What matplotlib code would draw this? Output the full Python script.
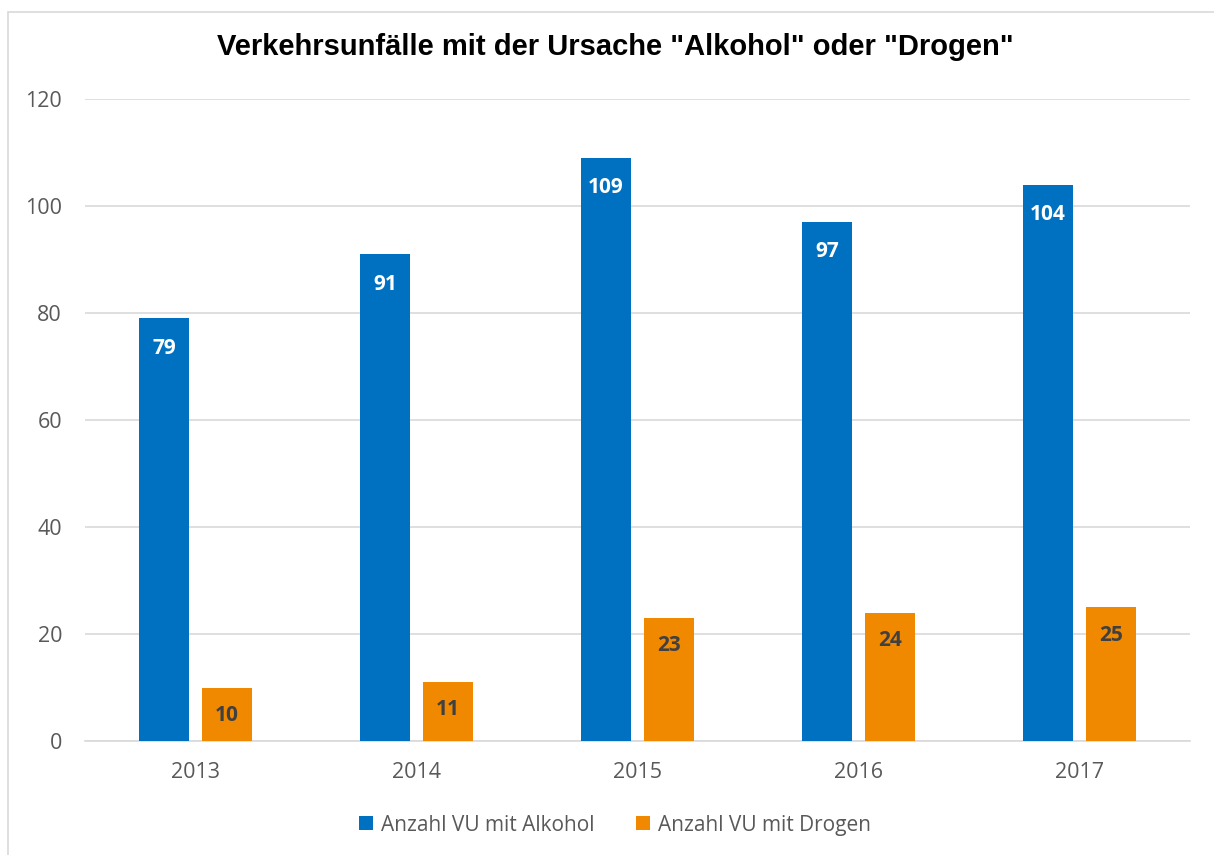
import matplotlib
matplotlib.use("Agg")
import matplotlib.pyplot as plt
import matplotlib.patches as mpatches
import numpy as np

years = ["2013", "2014", "2015", "2016", "2017"]
alkohol = [79, 91, 109, 97, 104]
drogen = [10, 11, 23, 24, 25]
series_names = ["Anzahl VU mit Alkohol", "Anzahl VU mit Drogen"]
title = 'Verkehrsunfälle mit der Ursache "Alkohol" oder "Drogen"'

blue = "#0070C0"
orange = "#F08800"
txt = "#595959"

fig = plt.figure(figsize=(12.14, 8.55), dpi=100)
ax = fig.add_axes([85/1214, 1-741/855, (1190-85)/1214, (741-99)/855])

# outer frame
fig.patches.append(mpatches.Rectangle((8/1214, -0.05), 1.1, (855-12)/855 + 0.05,
                                      transform=fig.transFigure, fill=False,
                                      edgecolor="#D9D9D9", linewidth=1.2))

x = np.arange(len(years))
w = 0.226
off = 0.1425
b1 = ax.bar(x - off, alkohol, w, color=blue, label=series_names[0], zorder=3)
b2 = ax.bar(x + off, drogen, w, color=orange, label=series_names[1], zorder=3)

for rect, v in zip(b1, alkohol):
    ax.annotate(str(v), (rect.get_x() + rect.get_width()/2, v), xytext=(0, -21.5),
                textcoords="offset points", ha="center", va="center",
                color="white", fontweight="bold", fontsize=15, family="Open Sans")
for rect, v in zip(b2, drogen):
    ax.annotate(str(v), (rect.get_x() + rect.get_width()/2, v), xytext=(0, -20),
                textcoords="offset points", ha="center", va="center",
                color="#404040", fontweight="bold", fontsize=15, family="Open Sans")

ax.set_xlim(-0.5, len(years) - 0.5)
ax.set_ylim(0, 120)
ax.set_yticks(range(0, 121, 20))
ax.set_xticks(x)
ax.set_xticklabels(years)
ax.grid(axis="y", color="#D9D9D9", linewidth=1.2, zorder=0)
for s in ["top", "right", "left"]:
    ax.spines[s].set_visible(False)
ax.spines["bottom"].set_color("#D9D9D9")
ax.spines["bottom"].set_linewidth(1.2)
ax.tick_params(axis="both", length=0, labelcolor=txt, labelsize=15.5)
ax.tick_params(axis="y", pad=16.5)
ax.tick_params(axis="x", pad=15)
for lab in ax.get_xticklabels() + ax.get_yticklabels():
    lab.set_family("Open Sans")

fig.text(615/1214, 1-47/855, title, ha="center", va="center",
         fontsize=21, fontweight="bold", family="Liberation Sans", color="black")

leg = fig.legend(handles=[b1, b2], labels=series_names, loc="center",
                 bbox_to_anchor=(615/1214, 1-825/855), ncol=2, frameon=False,
                 prop={"family": "Open Sans", "size": 15}, handlelength=0.65,
                 handleheight=0.65, handletextpad=0.4, columnspacing=2.0)
for t in leg.get_texts():
    t.set_color(txt)

fig.savefig("out.png", dpi=100)
